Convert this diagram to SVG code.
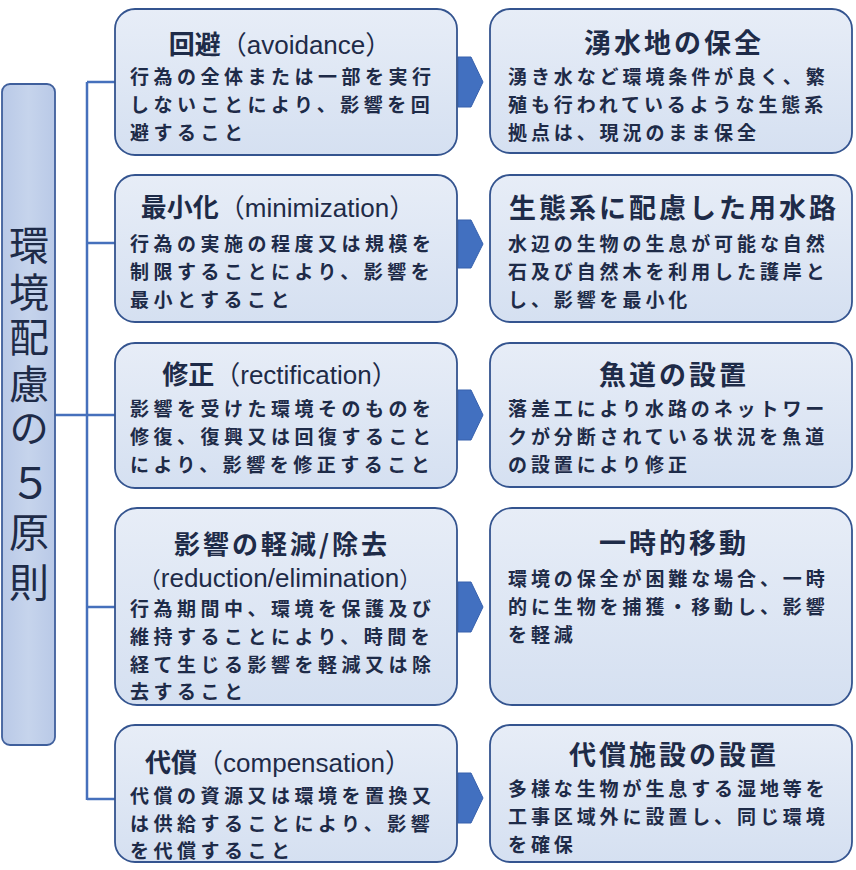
<svg xmlns="http://www.w3.org/2000/svg" width="856" height="870" viewBox="0 0 856 870">
<defs>
<linearGradient id="boxg" x1="0" y1="0" x2="0" y2="1">
<stop offset="0" stop-color="#e7edf7"/>
<stop offset="1" stop-color="#d5e0f1"/>
</linearGradient>
<linearGradient id="barg" x1="0" y1="0" x2="1" y2="0">
<stop offset="0" stop-color="#b9c9e7"/>
<stop offset="0.5" stop-color="#c6d4ec"/>
<stop offset="1" stop-color="#b9c9e7"/>
</linearGradient>
<style>
.box{fill:url(#boxg);stroke:#34548f;stroke-width:1.8}
.bar{fill:url(#barg);stroke:#3f5f9c;stroke-width:1.8}
.arr{fill:#4270c0;stroke:#3660ad;stroke-width:1}
.conn{fill:none;stroke:#4670bc;stroke-width:2.5}
.t{font-family:"Noto Sans CJK JP","Noto Sans",sans-serif;fill:#1e2b48}
.ttl{font-size:26px;font-weight:bold;text-anchor:middle}
.lat{font-family:"Liberation Sans","Noto Sans CJK JP",sans-serif;font-weight:normal;font-size:26px}
.rttl{font-size:27px;font-weight:bold;text-anchor:middle;letter-spacing:3px}
.body{font-size:19px;font-weight:bold;letter-spacing:3.9px}
.lb{letter-spacing:4.5px}
.side{font-size:40px;writing-mode:vertical-rl;text-orientation:upright}
</style>
</defs>
<rect width="856" height="870" fill="#ffffff"/>

<g id="connectors">
<path class="conn" d="M87,82 V800"/>
<path class="conn" d="M87,82 H116"/>
<path class="conn" d="M87,243 H116"/>
<path class="conn" d="M55,415 H116"/>
<path class="conn" d="M87,607 H116"/>
<path class="conn" d="M87,799 H116"/>
<path class="arr" d="M458,57 H471 L483,82 L471,107 H458 Z"/>
<path class="arr" d="M458,220 H471 L483,244 L471,268 H458 Z"/>
<path class="arr" d="M458,390 H471 L483,415 L471,440 H458 Z"/>
<path class="arr" d="M458,582 H471 L483,607 L471,632 H458 Z"/>
<path class="arr" d="M458,773 H471 L483,798 L471,823 H458 Z"/>
</g>

<g id="side">
<rect class="bar" x="2" y="84" width="53" height="661" rx="8"/>
<text class="t side" x="29" y="225"><tspan y="225">環</tspan><tspan y="272">境</tspan><tspan y="317">配</tspan><tspan y="364">慮</tspan><tspan y="408">の</tspan><tspan x="30.5" y="462" style="font-size:42px">５</tspan><tspan x="29" y="512">原</tspan><tspan y="562">則</tspan></text>
</g>

<g id="l1">
<rect class="box" x="115" y="9" width="342" height="146" rx="20"/>
<text class="t ttl" x="280" y="54">回避<tspan class="lat">（avoidance）</tspan></text>
<text class="t body lb" x="130" y="84">行為の全体または一部を実行</text>
<text class="t body lb" x="130" y="112">しないことにより、影響を回</text>
<text class="t body lb" x="130" y="140">避すること</text>
</g>

<g id="l2">
<rect class="box" x="115" y="175" width="342" height="147" rx="20"/>
<text class="t ttl" x="278" y="217">最小化<tspan class="lat">（minimization）</tspan></text>
<text class="t body lb" x="130" y="251">行為の実施の程度又は規模を</text>
<text class="t body lb" x="130" y="279">制限することにより、影響を</text>
<text class="t body lb" x="130" y="307">最小とすること</text>
</g>

<g id="l3">
<rect class="box" x="115" y="343" width="342" height="145" rx="20"/>
<text class="t ttl" x="280" y="384">修正<tspan class="lat">（rectification）</tspan></text>
<text class="t body lb" x="130" y="416">影響を受けた環境そのものを</text>
<text class="t body lb" x="130" y="444">修復、復興又は回復すること</text>
<text class="t body lb" x="130" y="472">により、影響を修正すること</text>
</g>

<g id="l4">
<rect class="box" x="115" y="508" width="342" height="197" rx="22"/>
<text class="t ttl" x="282" y="554" style="letter-spacing:3px">影響の軽減/除去</text>
<text class="t lat" x="280" y="587" text-anchor="middle"><tspan style="font-size:22px">（</tspan>reduction/elimination<tspan style="font-size:22px">）</tspan></text>
<text class="t body lb" x="130" y="615.5">行為期間中、環境を保護及び</text>
<text class="t body lb" x="130" y="643.5">維持することにより、時間を</text>
<text class="t body lb" x="130" y="671.5">経て生じる影響を軽減又は除</text>
<text class="t body lb" x="130" y="699">去すること</text>
</g>

<g id="l5">
<rect class="box" x="115" y="725" width="342" height="137" rx="20"/>
<text class="t ttl" x="278" y="772">代償<tspan class="lat">（compensation）</tspan></text>
<text class="t body lb" x="130" y="803">代償の資源又は環境を置換又</text>
<text class="t body lb" x="130" y="831">は供給することにより、影響</text>
<text class="t body lb" x="130" y="858">を代償すること</text>
</g>

<g id="r1">
<rect class="box" x="490" y="9" width="362" height="144" rx="20"/>
<text class="t rttl" x="674" y="53">湧水地の保全</text>
<text class="t body" x="508" y="84">湧き水など環境条件が良く、繁</text>
<text class="t body" x="508" y="112">殖も行われているような生態系</text>
<text class="t body" x="508" y="140">拠点は、現況のまま保全</text>
</g>

<g id="r2">
<rect class="box" x="490" y="175" width="362" height="147" rx="20"/>
<text class="t rttl" x="674" y="218">生態系に配慮した用水路</text>
<text class="t body" x="508" y="251">水辺の生物の生息が可能な自然</text>
<text class="t body" x="508" y="279">石及び自然木を利用した護岸と</text>
<text class="t body" x="508" y="307">し、影響を最小化</text>
</g>

<g id="r3">
<rect class="box" x="490" y="343" width="362" height="144" rx="20"/>
<text class="t rttl" x="674" y="385">魚道の設置</text>
<text class="t body" x="508" y="416">落差工により水路のネットワー</text>
<text class="t body" x="508" y="444">クが分断されている状況を魚道</text>
<text class="t body" x="508" y="472">の設置により修正</text>
</g>

<g id="r4">
<rect class="box" x="490" y="508" width="362" height="197" rx="22"/>
<text class="t rttl" x="674" y="553">一時的移動</text>
<text class="t body" x="508" y="586">環境の保全が困難な場合、一時</text>
<text class="t body" x="508" y="614">的に生物を捕獲・移動し、影響</text>
<text class="t body" x="508" y="642">を軽減</text>
</g>

<g id="r5">
<rect class="box" x="490" y="725" width="362" height="137" rx="20"/>
<text class="t rttl" x="674" y="765">代償施設の設置</text>
<text class="t body" x="508" y="796">多様な生物が生息する湿地等を</text>
<text class="t body" x="508" y="824">工事区域外に設置し、同じ環境</text>
<text class="t body" x="508" y="852">を確保</text>
</g>
</svg>
